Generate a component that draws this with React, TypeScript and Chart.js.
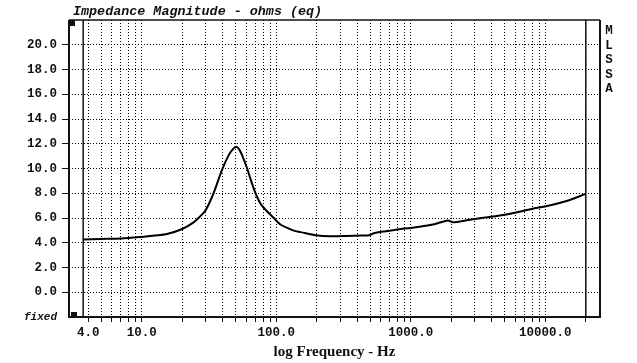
import React, { useEffect, useRef } from 'react';
import { Chart, registerables } from 'chart.js';

Chart.register(...registerables);

// ---- data ----
const freqHz = [
  3.67, 4.9, 7, 10, 12.5, 15.4, 20, 24.3, 27, 30, 34.2, 39.5, 44.3, 47.5, 50.2,
  53, 55.7, 60.8, 65, 70.1, 76, 83.2, 96, 108, 121, 135, 152, 191, 254, 338,
  420, 491, 510, 540, 650, 800, 1000, 1195, 1500, 1888, 2056, 2500, 2985, 3600,
  4460, 5500, 7465, 8500, 10500, 14830, 19950,
];
const impedanceOhms = [
  4.26, 4.31, 4.34, 4.47, 4.58, 4.71, 5.11, 5.65, 6.1, 6.67, 8.0, 9.88, 11.08, 11.55, 11.75,
  11.55, 11.08, 10.0, 9.0, 8.0, 7.2, 6.67, 6.0, 5.45, 5.2, 4.98, 4.86, 4.63, 4.52, 4.55,
  4.58, 4.6, 4.68, 4.78, 4.93, 5.08, 5.2, 5.32, 5.5, 5.8, 5.66, 5.78, 5.92, 6.05,
  6.18, 6.35, 6.67, 6.8, 6.99, 7.41, 7.95,
];

const xGridFreqs = [
  4, 5, 6, 7, 8, 9,
  10, 20, 30, 40, 50, 60, 70, 80, 90,
  100, 200, 300, 400, 500, 600, 700, 800, 900,
  1000, 2000, 3000, 4000, 5000, 6000, 7000, 8000, 9000,
  10000, 20000,
];
const xLabelFreqs = [4, 10, 100, 1000, 10000];
const xLabelTexts = ['4.0', '10.0', '100.0', '1000.0', '10000.0'];

const yTickValues = [-2, 0, 2, 4, 6, 8, 10, 12, 14, 16, 18, 20];
const yTickTexts = ['fixed', '0.0', '2.0', '4.0', '6.0', '8.0', '10.0', '12.0', '14.0', '16.0', '18.0', '20.0'];

const markerFreqs = [3.67, 20000];

const titleText = 'Impedance Magnitude - ohms (eq)';
const xTitleText = 'log Frequency - Hz';
const sideLetters = ['M', 'L', 'S', 'S', 'A'];

const X_MIN = 2.88;
const X_MAX = 25500;
const Y_MIN = -2;
const Y_MAX = 22;

const INK = '#111';
const MONO = '"Liberation Mono", "DejaVu Sans Mono", monospace';

const framePlugin = {
  id: 'mlssaFrame',
  afterDraw(chart: any) {
    const { ctx, chartArea: a } = chart;
    ctx.save();
    ctx.strokeStyle = INK;
    ctx.setLineDash([]);
    // frame
    ctx.lineWidth = 1.5;
    ctx.beginPath();
    ctx.moveTo(a.left, a.top);
    ctx.lineTo(a.right, a.top);
    ctx.stroke();
    ctx.lineWidth = 2;
    ctx.beginPath();
    ctx.moveTo(a.left, a.top);
    ctx.lineTo(a.left, a.bottom);
    ctx.lineTo(a.right, a.bottom);
    ctx.lineTo(a.right, a.top);
    ctx.stroke();
    // corner markers
    ctx.fillStyle = INK;
    ctx.fillRect(a.left, a.top, 6, 6);
    ctx.fillRect(a.left + 2, a.bottom - 5, 6, 5);
    // title
    ctx.font = `italic bold 13.4px ${MONO}`;
    ctx.textAlign = 'left';
    ctx.textBaseline = 'middle';
    ctx.fillText(titleText, a.left + 4, a.top - 8);
    // side letters
    ctx.font = `bold 12.5px ${MONO}`;
    ctx.textAlign = 'center';
    sideLetters.forEach((ch, i) => {
      ctx.fillText(ch, a.right + 9, a.top + 11 + i * 14.5);
    });
    ctx.restore();
  },
};

export default function App() {
  const canvasRef = useRef<HTMLCanvasElement | null>(null);

  useEffect(() => {
    const canvas = canvasRef.current;
    if (!canvas) return;

    const curve = freqHz.map((f, i) => ({ x: f, y: impedanceOhms[i] }));
    const markerSets = markerFreqs.map((f) => ({
      data: [
        { x: f, y: Y_MIN },
        { x: f, y: Y_MAX },
      ],
      borderColor: INK,
      borderWidth: 1.5,
      pointRadius: 0,
      tension: 0,
    }));

    const chart = new Chart(canvas, {
      type: 'line',
      data: {
        datasets: [
          {
            data: curve,
            borderColor: '#000',
            borderWidth: 2,
            pointRadius: 0,
            tension: 0.3,
          },
          ...markerSets,
        ] as any,
      },
      options: {
        animation: false,
        responsive: false,
        devicePixelRatio: 1,
        layout: { padding: { top: 20, right: 37, bottom: 0, left: 0 } },
        plugins: {
          legend: { display: false },
          tooltip: { enabled: false },
          title: { display: false },
        },
        scales: {
          x: {
            type: 'logarithmic',
            min: X_MIN,
            max: X_MAX,
            afterBuildTicks: (scale: any) => {
              scale.ticks = xGridFreqs.map((v) => ({ value: v }));
            },
            afterFit: (scale: any) => {
              scale.height = 46;
            },
            ticks: {
              autoSkip: false,
              maxRotation: 0,
              minRotation: 0,
              padding: 3,
              color: INK,
              font: { family: MONO, size: 12.5, weight: 'bold' },
              callback: (value: any) => {
                const idx = xLabelFreqs.indexOf(Number(value));
                return idx >= 0 ? xLabelTexts[idx] : '';
              },
            },
            grid: {
              color: '#000',
              lineWidth: 1,
              tickLength: 5,
              tickColor: INK,
              drawTicks: true,
            },
            border: { display: false, dash: [1, 2] },
            title: {
              display: true,
              text: xTitleText,
              color: INK,
              font: { family: '"Liberation Serif", serif', size: 15, weight: 'bold' },
              padding: { top: 0, bottom: 2 },
            },
          },
          y: {
            type: 'linear',
            min: Y_MIN,
            max: Y_MAX,
            afterBuildTicks: (scale: any) => {
              scale.ticks = yTickValues.map((v) => ({ value: v }));
            },
            afterFit: (scale: any) => {
              scale.width = 69;
            },
            ticks: {
              padding: 5,
              color: INK,
              font: (ctx: any) =>
                ctx.tick && ctx.tick.value === -2
                  ? { family: MONO, size: 11, weight: 'bold', style: 'italic' }
                  : { family: MONO, size: 12.5, weight: 'bold' },
              callback: (value: any) => {
                const idx = yTickValues.indexOf(Number(value));
                return idx >= 0 ? yTickTexts[idx] : '';
              },
            },
            grid: {
              color: '#000',
              lineWidth: 1,
              tickLength: 7,
              tickColor: (ctx: any) => (ctx.tick && ctx.tick.value === -2 ? 'rgba(0,0,0,0)' : INK),
              drawTicks: true,
            },
            border: { display: false, dash: [1, 2] },
          },
        },
      } as any,
      plugins: [framePlugin],
    });

    return () => {
      chart.destroy();
    };
  }, []);

  return (
    <div
      style={{
        position: 'fixed',
        left: 0,
        top: 0,
        width: 637,
        height: 363,
        background: '#fff',
      }}
    >
      <canvas ref={canvasRef} width={637} height={363} style={{ display: 'block' }} />
    </div>
  );
}
